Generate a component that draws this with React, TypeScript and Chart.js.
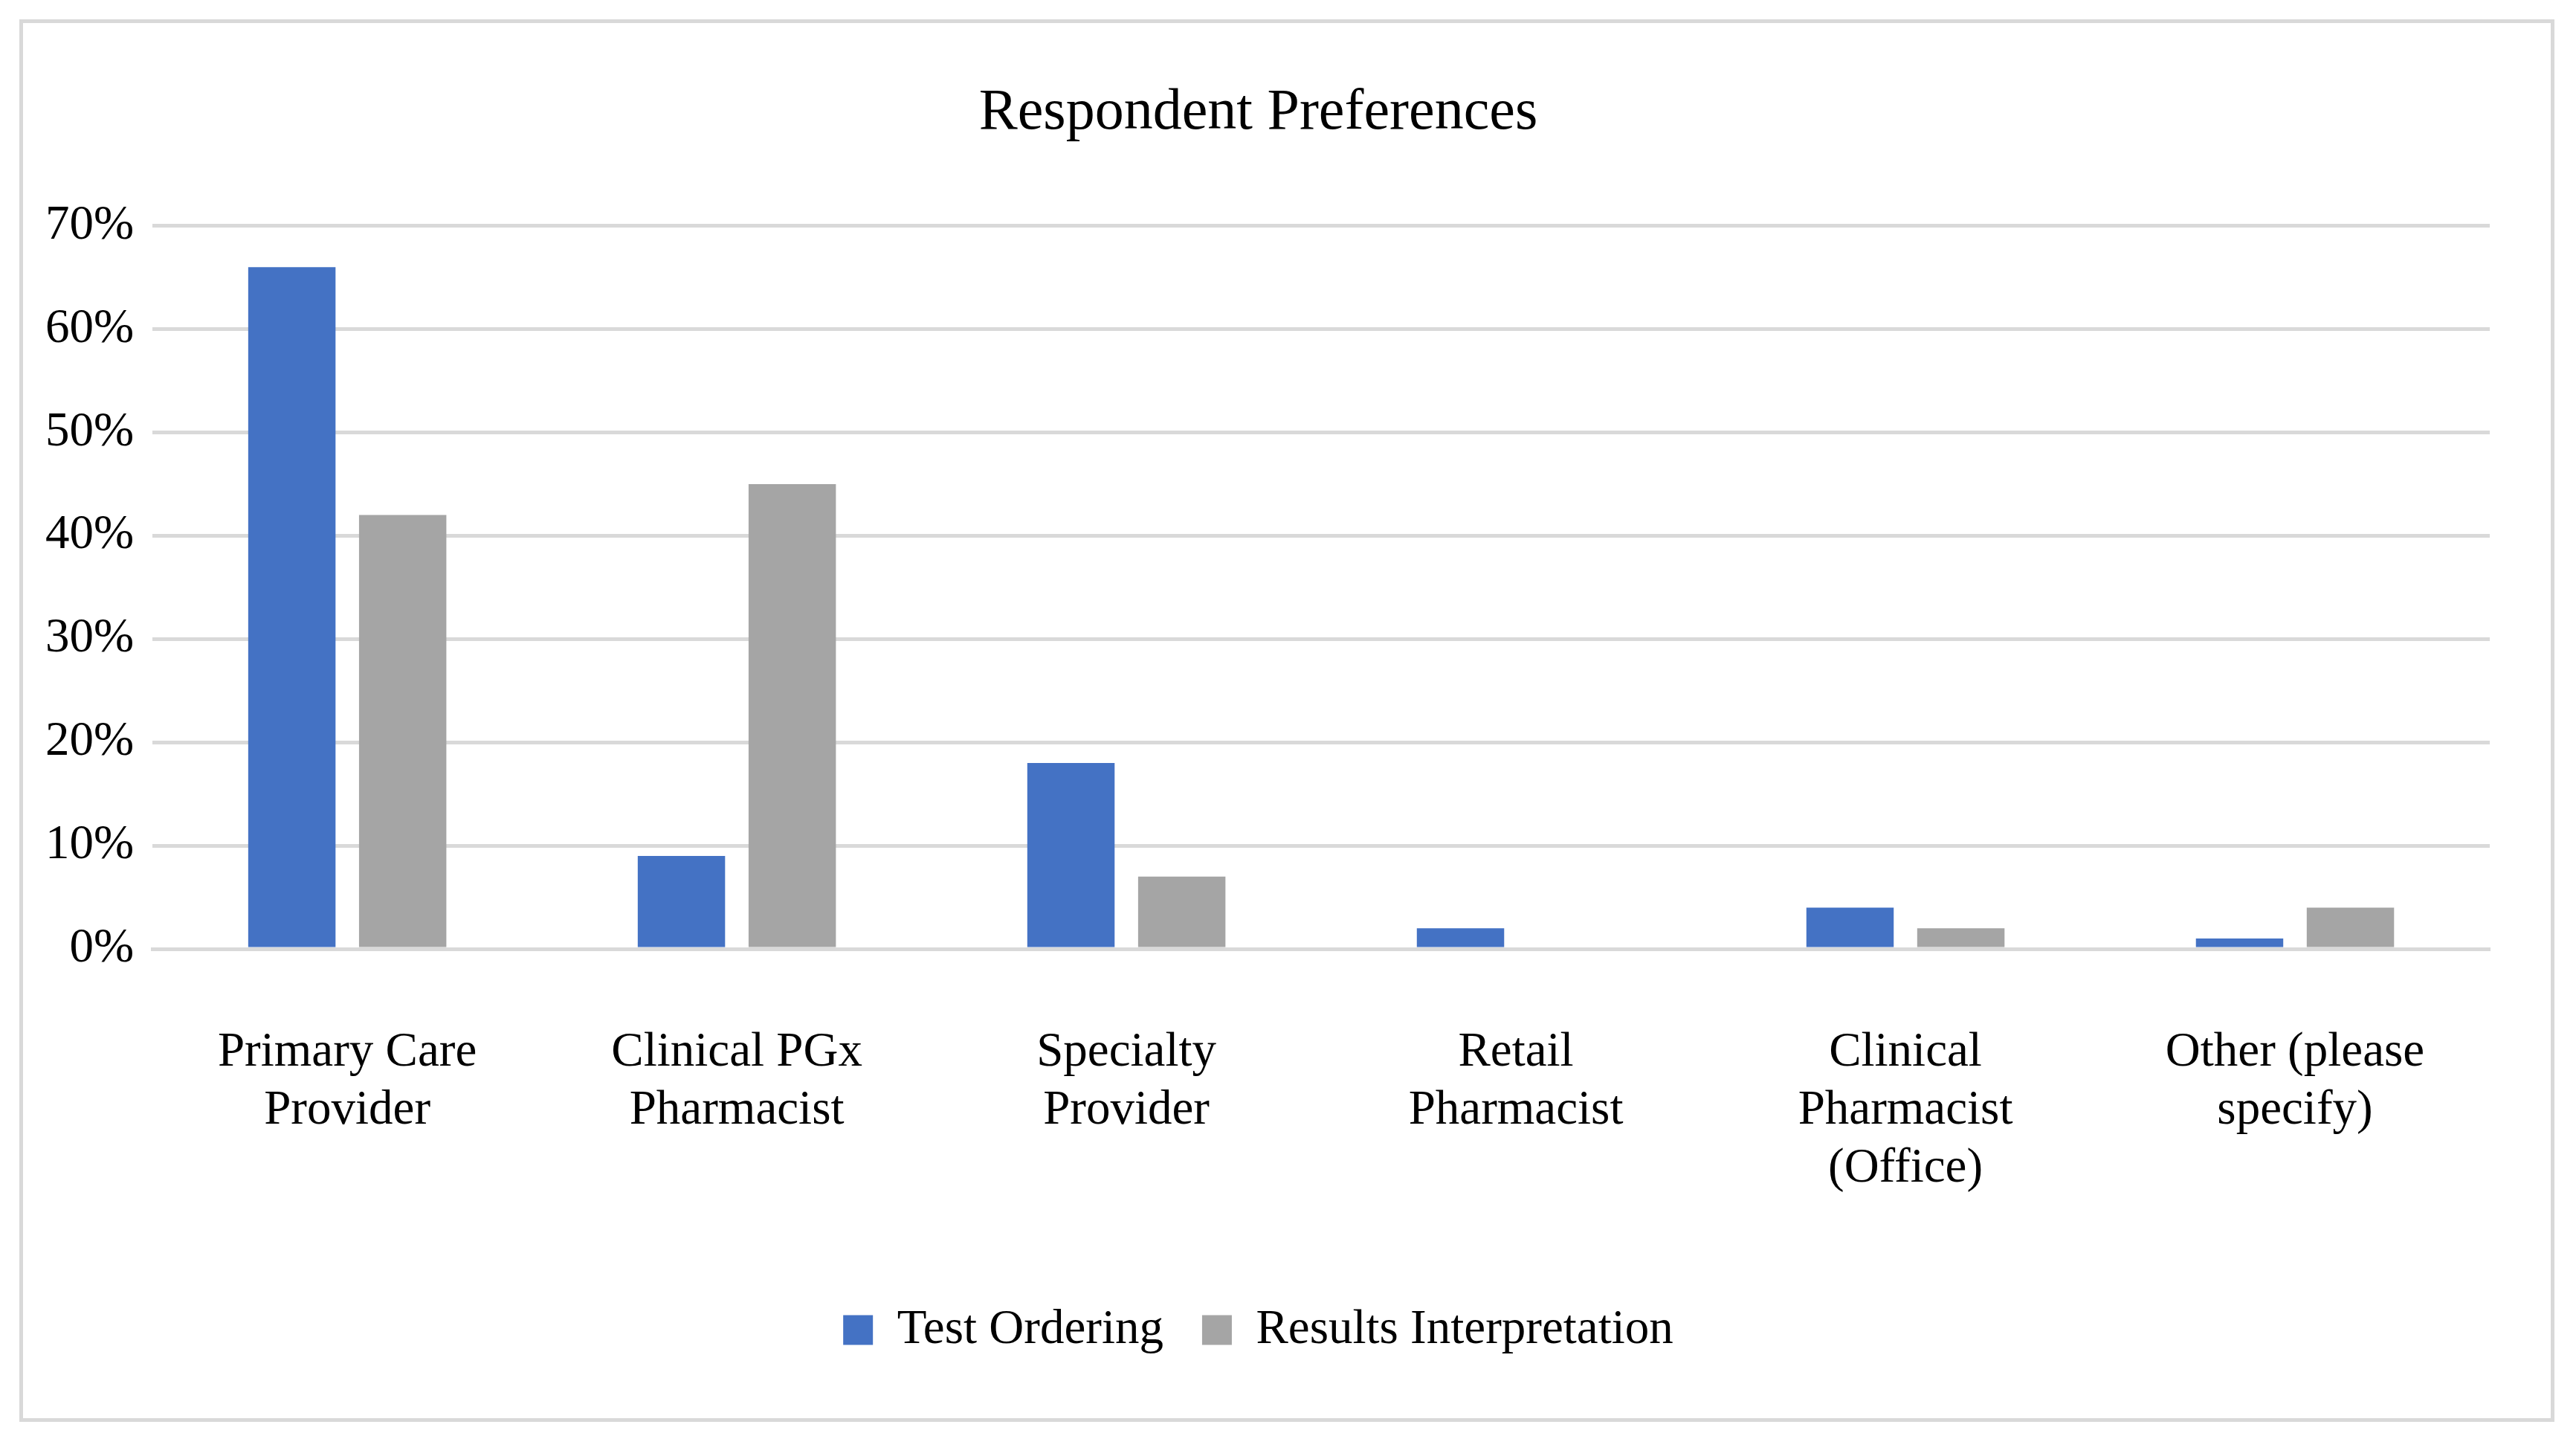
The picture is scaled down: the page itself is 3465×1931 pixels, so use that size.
import React, { useEffect, useRef } from "react";
import { Chart, registerables } from "chart.js";
Chart.register(...registerables);

const categories = [
  ["Primary Care", "Provider"],
  ["Clinical PGx", "Pharmacist"],
  ["Specialty", "Provider"],
  ["Retail", "Pharmacist"],
  ["Clinical", "Pharmacist", "(Office)"],
  ["Other (please", "specify)"],
];
const testOrdering = [66, 9, 18, 2, 4, 1];
const resultsInterpretation = [42, 45, 7, 0, 2, 4];
const FONT = "'Liberation Serif', 'DejaVu Serif', serif";

export default function App() {
  const ref = useRef<HTMLCanvasElement>(null);
  useEffect(() => {
    const chart = new Chart(ref.current!, {
      type: "bar",
      data: {
        labels: categories,
        datasets: [
          { label: "Test Ordering", data: testOrdering, backgroundColor: "#4472C4", categoryPercentage: 0.569, barPercentage: 0.788 },
          { label: "Results Interpretation", data: resultsInterpretation, backgroundColor: "#A5A5A5", categoryPercentage: 0.569, barPercentage: 0.788 },
        ],
      },
      options: {
        animation: false,
        responsive: false,
        layout: { padding: { left: 0, right: 67, top: 40, bottom: 55 } },
        plugins: {
          title: { display: true, text: "Respondent Preferences", color: "#000", font: { family: FONT, size: 78, weight: "normal" }, padding: { top: 30, bottom: 104 } },
          legend: {
            position: "bottom",
            labels: { color: "#000", font: { family: FONT, size: 65 }, boxWidth: 40, boxHeight: 40, padding: 52 },
          },
          tooltip: { enabled: false },
        },
        scales: {
          x: {
            grid: { display: false },
            border: { color: "#D9D9D9", width: 5 },
            ticks: { color: "#000", font: { family: FONT, size: 65 }, maxRotation: 0, padding: 93 },
          },
          y: {
            min: 0, max: 70,
            ticks: { stepSize: 10, color: "#000", font: { family: FONT, size: 65 }, padding: 25, callback: (v: any) => v + "%" },
            grid: { color: "#D9D9D9", lineWidth: 5, drawTicks: false },
            border: { display: false },
          },
        },
      },
    });
    return () => chart.destroy();
  }, []);
  return (
    <div style={{ position: "fixed", left: 0, top: 0, width: 3465, height: 1931, background: "#fff" }}>
      <div style={{ position: "absolute", left: 26, top: 26, width: 3400, height: 1876, border: "5px solid #D9D9D9" }} />
      <canvas ref={ref} width={3380} height={1850} style={{ position: "absolute", left: 36, top: 36 }} />
    </div>
  );
}
